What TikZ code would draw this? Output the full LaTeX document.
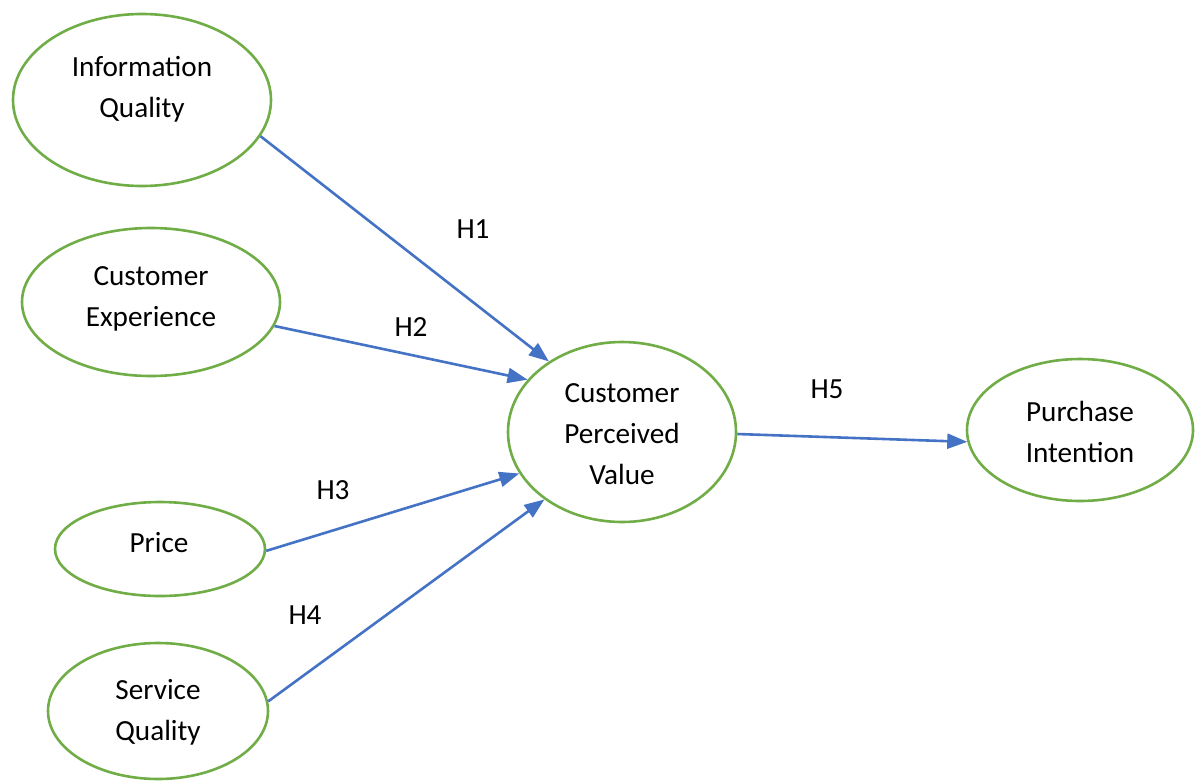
\documentclass[tikz,border=0pt]{standalone}
\usepackage{fontspec}
\setmainfont{Carlito}
\usetikzlibrary{arrows.meta,shapes.geometric}
\definecolor{ovalgreen}{HTML}{70AD47}
\definecolor{arrowblue}{HTML}{4472C4}
\tikzset{
    %Define style for ellipses
    oval/.style={
           ellipse,
           draw=ovalgreen, line width=1.3pt,
           inner sep=0pt},
    %Define style for texts
    txt/.style={
           align=center,
           font=\fontsize{14.6}{20.5}\selectfont},
    % Define arrow style
    imply/.style={
           -{Triangle[length=10pt,width=7.5pt]},
           draw=arrowblue,
           line width=1.3pt}
}
\begin{document}
\begin{tikzpicture}[x=0.5pt,y=-0.5pt]
 \useasboundingbox (0,0) rectangle (1197,781);
 %nodes
    \node[oval, minimum width=129pt, minimum height=86pt] (iq) at (142,100) {};
    \node[oval, minimum width=129pt, minimum height=74pt] (ce) at (151,302) {};
    \node[oval, minimum width=114pt, minimum height=90pt] (cpv) at (622,432) {};
    \node[oval, minimum width=113pt, minimum height=71pt] (pi) at (1080,430) {};
    \node[oval, minimum width=105pt, minimum height=47pt] (pr) at (160,549) {};
    \node[oval, minimum width=110pt, minimum height=68pt] (sq) at (158,711) {};
 %texts
    \node[txt] (iqtxt) at (142,89) {Information\\Quality};
    \node[txt] (cetxt) at (151,299) {Customer\\Experience};
    \node[txt] (cpvtxt) at (622,434) {Customer\\Perceived\\Value};
    \node[txt] (pitxt) at (1080,432) {Purchase\\Intention};
    \node[txt] (prtxt) at (159,543) {Price};
    \node[txt] (sqtxt) at (158,712) {Service\\Quality};
 %edges
    \draw[imply] (iq.-17.6) -- (cpv.136.9);
    \draw[imply] (ce.-11.7) -- (cpv.151.3);
    \draw[imply] (pr.-1) -- (cpv.-158.5);
    \draw[imply] (sq.5.3) -- (cpv.-139.1);
    \draw[imply] (cpv.-1) -- (pi.186.6);
 %hypotheses
    \node[txt] (h1) at (473,229) {H1};
    \node[txt] (h2) at (411,327) {H2};
    \node[txt] (h3) at (333,490) {H3};
    \node[txt] (h4) at (305,615) {H4};
    \node[txt] (h5) at (827,389) {H5};
  \end{tikzpicture}
\end{document}
